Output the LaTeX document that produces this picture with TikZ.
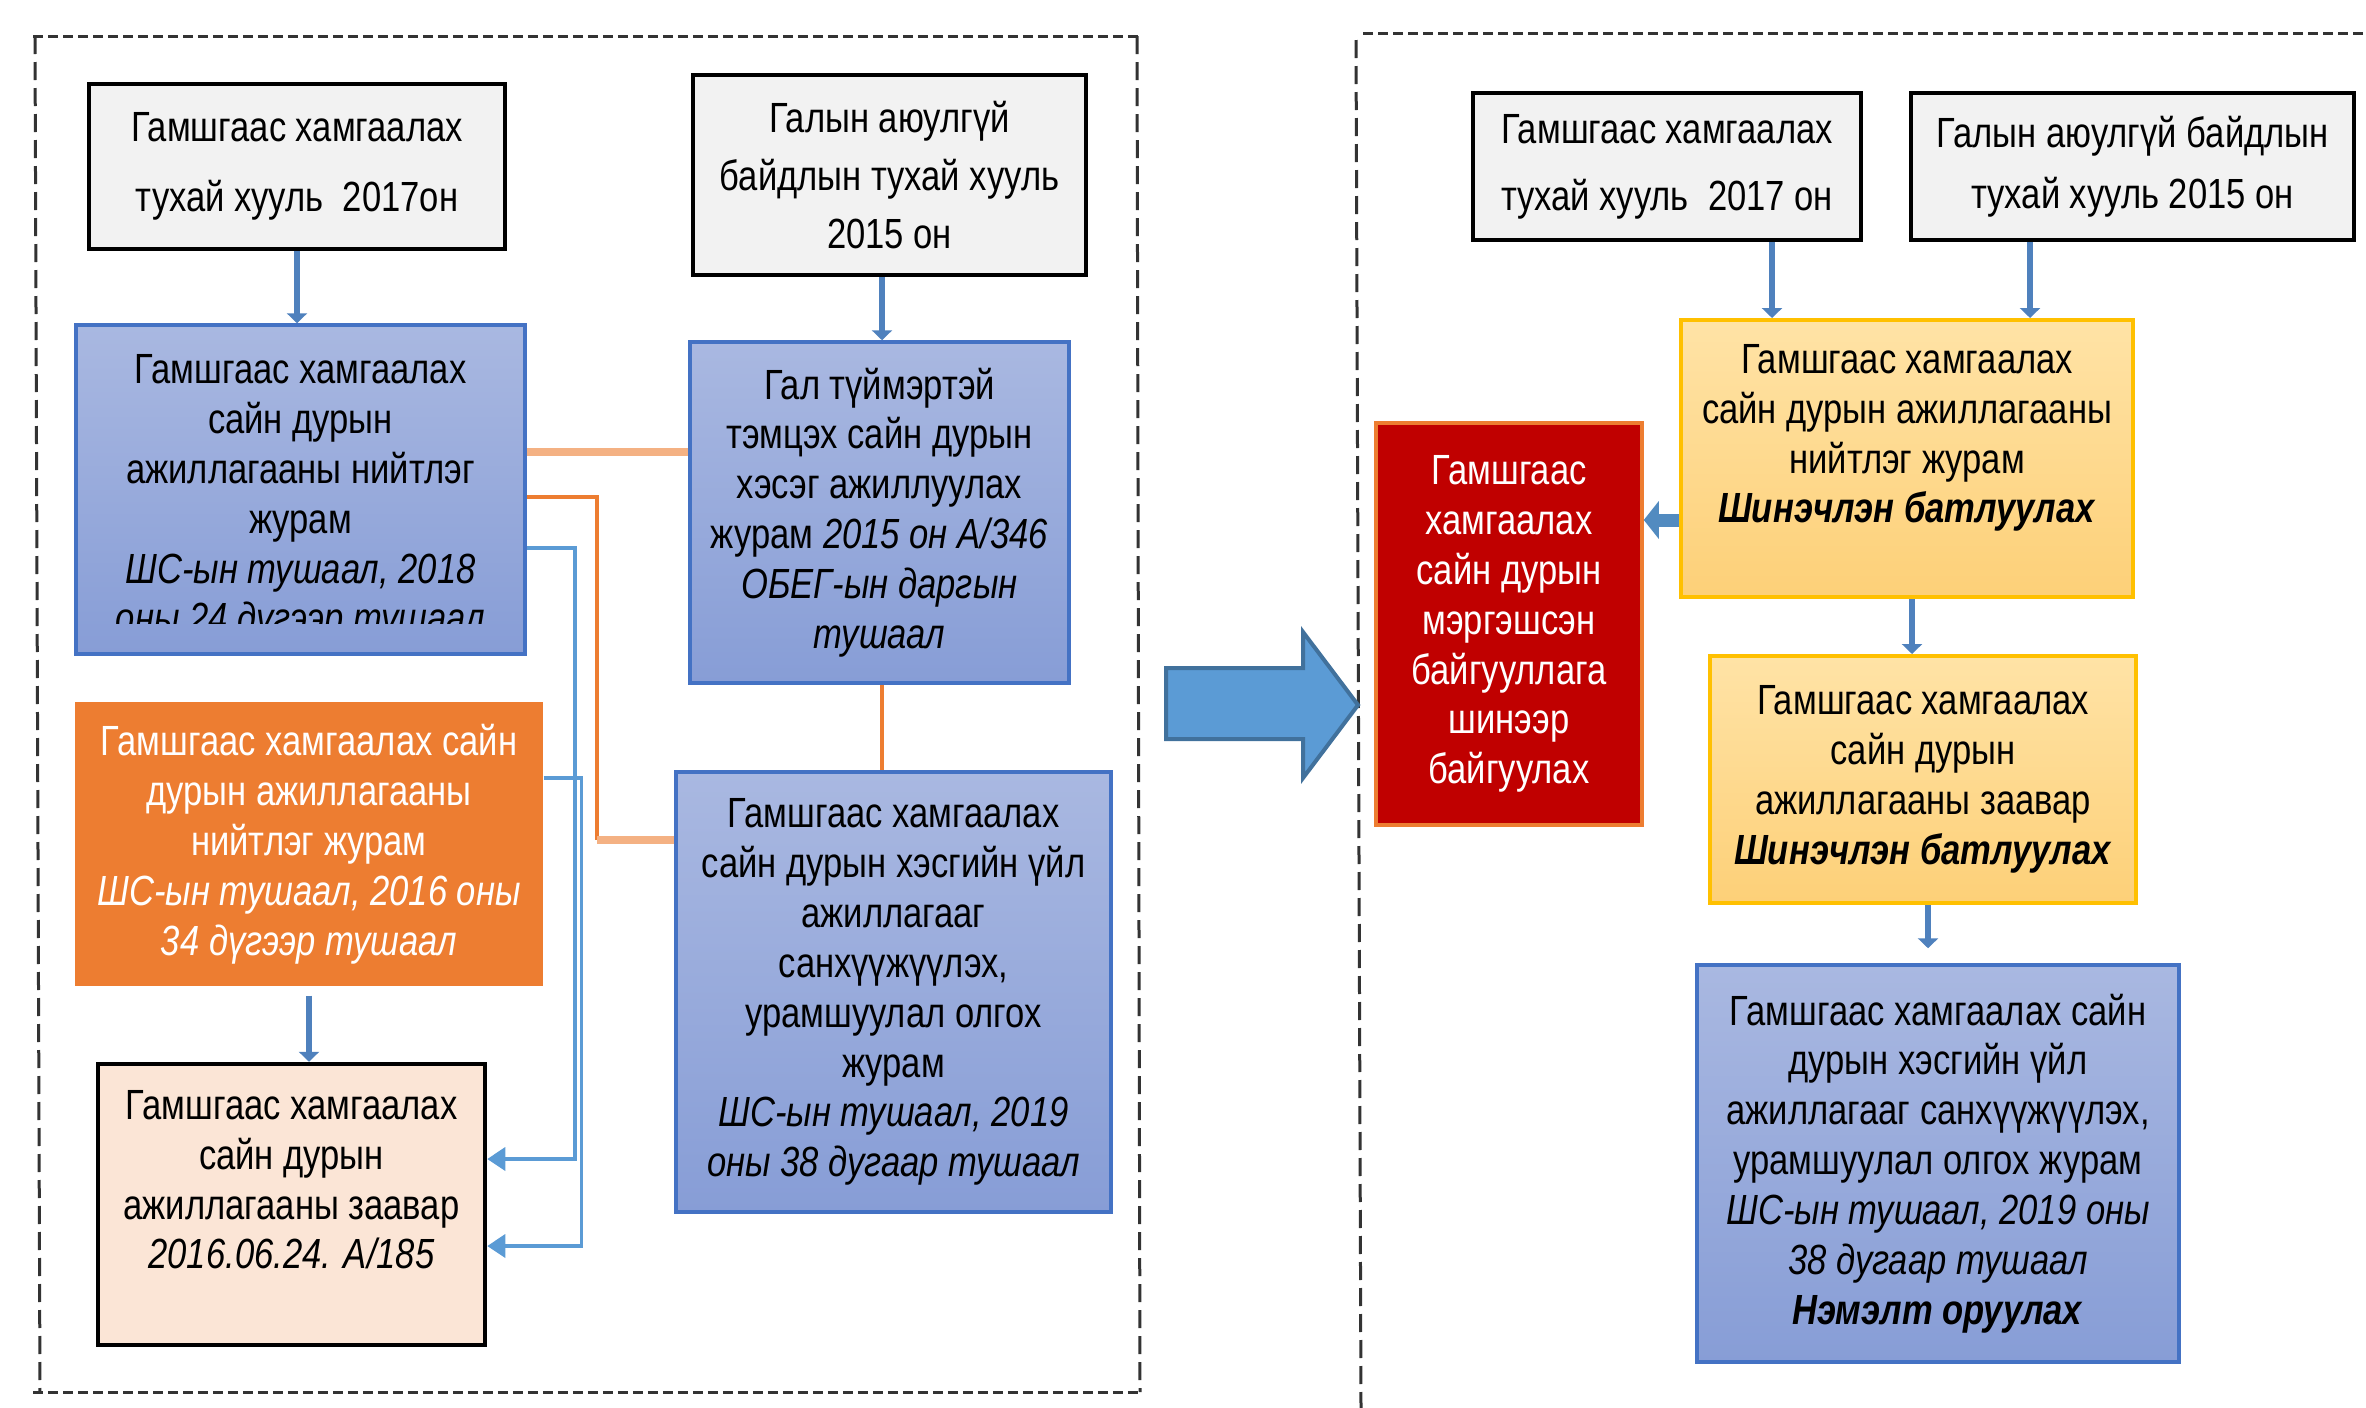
\documentclass[tikz,border=0pt]{standalone}
\usepackage{fontspec}
\setmainfont{Liberation Sans}[FakeStretch=0.82]
\usetikzlibrary{arrows.meta}
\definecolor{boxgrey}{HTML}{F2F2F2}
\definecolor{bluetop}{HTML}{A9B8E1}
\definecolor{bluebot}{HTML}{879DD6}
\definecolor{blueedge}{HTML}{4472C4}
\definecolor{orfill}{HTML}{ED7D31}
\definecolor{orlight}{HTML}{F4B183}
\definecolor{peach}{HTML}{FBE5D6}
\definecolor{yeltop}{HTML}{FFE3A6}
\definecolor{yelbot}{HTML}{FDD078}
\definecolor{yeledge}{HTML}{FFC000}
\definecolor{redfill}{HTML}{C00000}
\definecolor{arrblue}{HTML}{4F81BD}
\definecolor{linkblue}{HTML}{5B9BD5}
\definecolor{bigedge}{HTML}{41719C}
\tikzset{
box/.style={rectangle,inner sep=0pt,align=center,font=\fontsize{12}{14.2}\selectfont},
greybox/.style={box,fill=boxgrey,draw=black,line width=0.45mm},
bluebox/.style={box,top color=bluetop,bottom color=bluebot,draw=blueedge,line width=0.35mm},
yelbox/.style={box,top color=yeltop,bottom color=yelbot,draw=yeledge,line width=0.4mm},
varr/.style={arrblue,line width=0.6mm,-{Triangle[width=2mm,length=1mm]}},
barr/.style={linkblue,line width=0.35mm,-{Triangle[width=2.3mm,length=1.8mm]}},
hdash/.style={black!80,line width=0.3mm,dash pattern=on 1mm off 0.5mm},
vdash/.style={black!80,line width=0.3mm,dash pattern=on 1.8mm off 0.8mm}}
\begin{document}
\begin{tikzpicture}[x=0.1mm,y=-0.1mm]
\useasboundingbox (0,0) rectangle (2366,1407);
\draw[hdash](33,36)--(1138,36) (33,1392)--(1140,1392);
\draw[vdash](35,36)--(40,1392) (1137,36)--(1140,1392);
\draw[hdash](1363,33)--(2370,33);
\draw[vdash](1356,40)--(1361,1410);
\node[greybox,minimum width=41.6mm,minimum height=16.5mm,font=\fontsize{12}{19.9}\selectfont](a) at (297,166.5){Гамшгаас хамгаалах\\тухай хууль\ \ 2017он};
\node[greybox,minimum width=39.3mm,minimum height=20mm,font=\fontsize{12}{16.5}\selectfont](b) at (889.5,175){Галын аюулгүй\\байдлын тухай хууль\\2015 он};
\node[bluebox,minimum width=44.9mm,minimum height=32.9mm](c) at (300.5,489.5){};
\begin{scope}
\clip (76,325) rectangle (525,623);
\node[box](ctext) at (300.5,498){Гамшгаас хамгаалах\\сайн дурын\\ажиллагааны нийтлэг\\журам\\\textit{ШС-ын тушаал, 2018}\\\textit{оны 24 дүгээр тушаал}};
\end{scope}
\node[bluebox,minimum width=37.9mm,minimum height=34.1mm](d) at (879.5,512.5){Гал түймэртэй\\тэмцэх сайн дурын\\хэсэг ажиллуулах\\журам \textit{2015 он А/346}\\\textit{ОБЕГ-ын даргын}\\\textit{тушаал}};
\node[box,fill=orfill,text=white,minimum width=46.8mm,minimum height=28.4mm](e) at (309,844){Гамшгаас хамгаалах сайн\\дурын ажиллагааны\\нийтлэг журам\\\textit{ШС-ын тушаал, 2016 оны}\\\textit{34 дүгээр тушаал}};
\node[bluebox,minimum width=43.5mm,minimum height=44mm](f) at (893.5,992){Гамшгаас хамгаалах\\сайн дурын хэсгийн үйл\\ажиллагааг\\санхүүжүүлэх,\\урамшуулал олгох\\журам\\\textit{ШС-ын тушаал, 2019}\\\textit{оны 38 дугаар тушаал}};
\node[box,fill=peach,draw=black,line width=0.45mm,minimum width=38.7mm,minimum height=28.1mm](g) at (291.5,1204.5){Гамшгаас хамгаалах\\сайн дурын\\ажиллагааны заавар\\\textit{2016.06.24. А/185}\\\mbox{}};
\node[greybox,minimum width=38.8mm,minimum height=14.7mm,font=\fontsize{12}{19.1}\selectfont](h) at (1667,166.5){Гамшгаас хамгаалах\\тухай хууль\ \ 2017 он};
\node[greybox,minimum width=44.3mm,minimum height=14.7mm,font=\fontsize{12}{17.4}\selectfont](i) at (2132.5,166.5){Галын аюулгүй байдлын\\тухай хууль 2015 он};
\node[yelbox,minimum width=45.2mm,minimum height=27.7mm](j) at (1907,458.5){Гамшгаас хамгаалах\\сайн дурын ажиллагааны\\нийтлэг журам\\\textbf{\textit{Шинэчлэн батлуулах}}\\\mbox{}};
\node[box,fill=redfill,draw=orfill,line width=0.35mm,text=white,minimum width=26.6mm,minimum height=40.2mm](k) at (1509,624){Гамшгаас\\хамгаалах\\сайн дурын\\мэргэшсэн\\байгууллага\\шинээр\\байгуулах};
\node[yelbox,minimum width=42.6mm,minimum height=24.7mm](l) at (1923,779.5){Гамшгаас хамгаалах\\сайн дурын\\ажиллагааны заавар\\\textbf{\textit{Шинэчлэн батлуулах}}};
\node[bluebox,minimum width=48.2mm,minimum height=39.7mm](m) at (1938,1163.5){Гамшгаас хамгаалах сайн\\дурын хэсгийн үйл\\ажиллагааг санхүүжүүлэх,\\урамшуулал олгох журам\\\textit{ШС-ын тушаал, 2019 оны}\\\textit{38 дугаар тушаал}\\\textbf{\textit{Нэмэлт оруулах}}};
\foreach \p/\q/\s in {a/c/0,b/d/-.75,h/j/10.5,i/j/-10.25,j/l/.5}{\draw[varr]([xshift=\s mm]\p.south)--([xshift=\s mm]\p.south |- \q.north);}
\draw[varr,shorten <=0.9mm](e.south)--(e.south |- g.north);
\draw[varr,shorten >=1.5mm]([xshift=.5mm]l.south)--([xshift=.5mm]l.south |- m.north);
\draw[orlight,line width=0.8mm]([yshift=3.75mm]c.east)--([yshift=3.75mm]c.east -| d.west);
\coordinate(bend) at (597,840);
\draw[orfill,line width=0.35mm]([yshift=-.75mm]c.east)-|(bend);
\draw[orlight,line width=0.8mm](bend)--(bend -| f.west);
\draw[orfill,line width=0.35mm]([xshift=.25mm]d.south)--([xshift=.25mm]d.south |- f.north);
\draw[barr]([yshift=-5.85mm]c.east)--++(4.8mm,0)|-([yshift=4.55mm]g.east);
\draw[barr]([yshift=6.6mm]e.east)--++(3.8mm,0)|-([yshift=-4.15mm]g.east);
\draw[color=linkblue!90!black,line width=1.3mm,-{Triangle[width=3.7mm,length=1.5mm]}]([yshift=-6.15mm]j.west)--([yshift=-6.15mm]j.west -| k.east);
\filldraw[fill=linkblue,draw=bigedge,line width=0.4mm](1166,668)--(1303,668)--(1303,632)--(1358,705)--(1303,778)--(1303,739)--(1166,739)--cycle;
\end{tikzpicture}
\end{document}
